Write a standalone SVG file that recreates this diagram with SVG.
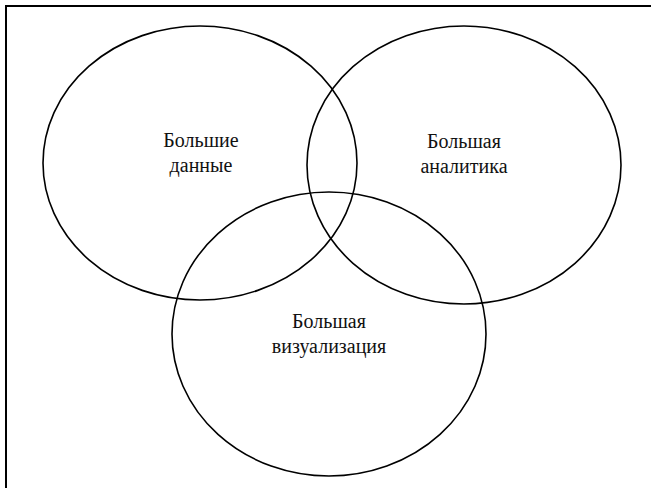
<svg xmlns="http://www.w3.org/2000/svg" width="651" height="488" viewBox="0 0 651 488">
<style>
.c{fill:none;stroke:#000;stroke-width:1.6}
.t{font-family:"Liberation Serif","Times New Roman",serif;font-size:20px;fill:#111;text-anchor:middle}
</style>
<rect width="651" height="488" fill="#fff"/>
<path d="M6 488 V6 H651" fill="none" stroke="#000" stroke-width="2"/>
<g id="big-data">
<ellipse class="c" cx="200" cy="163" rx="157" ry="137"/>
<text class="t" x="201" y="147">Большие</text>
<text class="t" x="201" y="172">данные</text>
</g>
<g id="big-analytics">
<ellipse class="c" cx="464" cy="165" rx="157" ry="139"/>
<text class="t" x="464" y="148">Большая</text>
<text class="t" x="464" y="173">аналитика</text>
</g>
<g id="big-visualization">
<ellipse class="c" cx="329" cy="334" rx="157" ry="142"/>
<text class="t" x="329" y="328">Большая</text>
<text class="t" x="329" y="353">визуализация</text>
</g>
<g id="connectors"/>
</svg>
